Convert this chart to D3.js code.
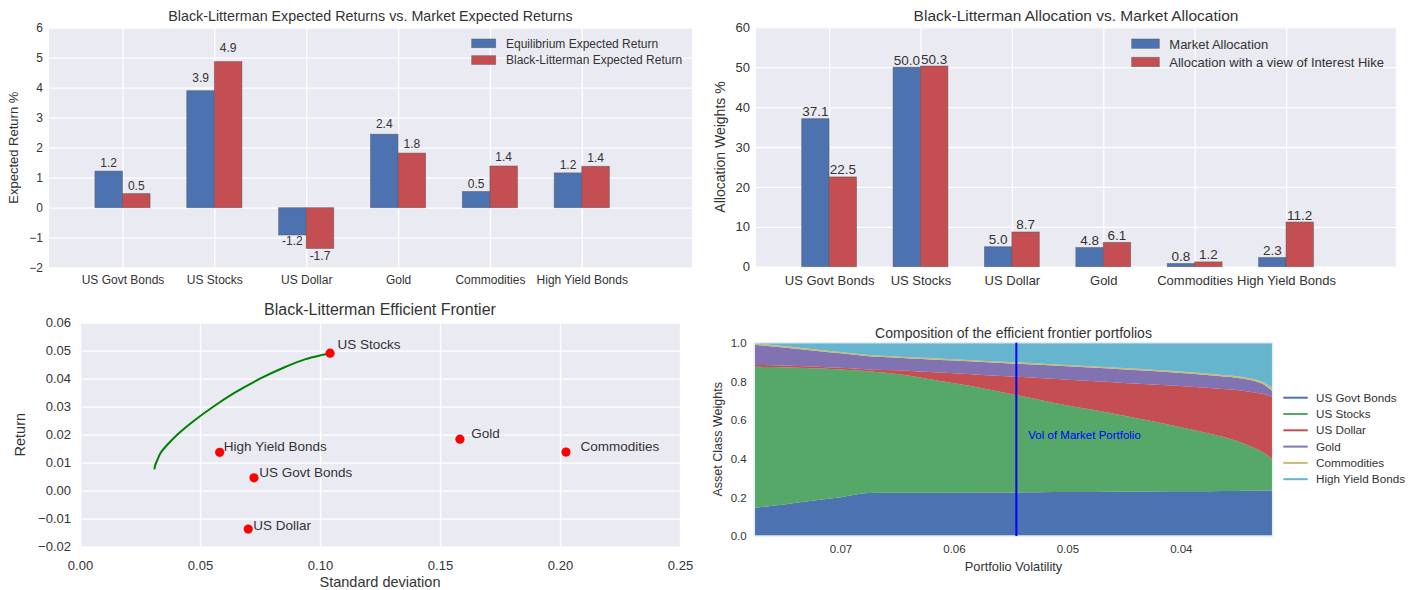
<!DOCTYPE html>
<html lang="en">
<head>
<meta charset="utf-8">
<title>Black-Litterman allocation</title>
<script src="https://d3js.org/d3.v7.min.js"></script>
<style>
  body { margin: 0; background: #fff; }
  svg text { font-family: "Liberation Sans", Arial, sans-serif; fill: #333; }
  .grid line { stroke: #fff; stroke-width: 1.3; }
  .grid .domain { display: none; }
  .bar { stroke: #555; stroke-width: 0.8; stroke-opacity: 0.6; }
</style>
</head>
<body>
<div id="vis"></div>
<script>
// ---- data ----
const assets = ["US Govt Bonds", "US Stocks", "US Dollar", "Gold", "Commodities", "High Yield Bonds"];

// expected returns (%)
const eqReturns = [1.22, 3.90, -0.91, 2.45, 0.54, 1.16];
const blReturns = [0.47, 4.87, -1.36, 1.82, 1.39, 1.38];
const eqReturnLabels = ["1.2", "3.9", "-1.2", "2.4", "0.5", "1.2"];
const blReturnLabels = ["0.5", "4.9", "-1.7", "1.8", "1.4", "1.4"];
const returnTicks = [-2, -1, 0, 1, 2, 3, 4, 5, 6];

// allocation weights (%)
const marketWeights = [37.1, 50.0, 5.0, 4.8, 0.8, 2.3];
const viewWeights = [22.5, 50.3, 8.7, 6.1, 1.2, 11.2];
const weightTicks = [0, 10, 20, 30, 40, 50, 60];

// efficient frontier
const assetStd = [0.0725, 0.1042, 0.0701, 0.1583, 0.2025, 0.0582];
const assetRet = [0.0046, 0.0491, -0.0137, 0.0184, 0.0138, 0.0137];
const frontierStd = [0.0310, 0.0313, 0.0320, 0.0335, 0.0365, 0.0405, 0.0475, 0.0555, 0.0645, 0.0750, 0.0850, 0.0940, 0.1010, 0.1042];
const frontierRet = [0.0076, 0.0090, 0.0105, 0.0134, 0.0165, 0.0200, 0.0250, 0.0300, 0.0350, 0.0400, 0.0440, 0.0470, 0.0485, 0.0491];
const stdTicks = [0, 0.05, 0.10, 0.15, 0.20, 0.25];
const retTicks = [-0.02, -0.01, 0, 0.01, 0.02, 0.03, 0.04, 0.05, 0.06];

// composition of the frontier portfolios
const vols = [0.0776, 0.075, 0.0725, 0.07, 0.0675, 0.065, 0.0625, 0.06, 0.0575, 0.055, 0.0525, 0.05, 0.0475, 0.045, 0.0425, 0.04, 0.0375, 0.035, 0.0335, 0.0327, 0.0319];
const govtW   = [0.145, 0.163, 0.182, 0.200, 0.222, 0.224, 0.224, 0.224, 0.225, 0.225, 0.226, 0.227, 0.228, 0.229, 0.230, 0.231, 0.232, 0.233, 0.234, 0.235, 0.236];
const stocksW = [0.730, 0.710, 0.686, 0.662, 0.630, 0.614, 0.591, 0.566, 0.540, 0.510, 0.479, 0.448, 0.422, 0.393, 0.363, 0.331, 0.298, 0.257, 0.221, 0.197, 0.159];
const dollarW = [0.010, 0.009, 0.009, 0.008, 0.010, 0.020, 0.035, 0.052, 0.068, 0.090, 0.112, 0.133, 0.150, 0.170, 0.191, 0.214, 0.236, 0.265, 0.287, 0.302, 0.323];
const goldW   = [0.105, 0.093, 0.083, 0.075, 0.068, 0.064, 0.065, 0.066, 0.067, 0.068, 0.069, 0.070, 0.070, 0.070, 0.069, 0.067, 0.066, 0.063, 0.060, 0.050, 0.030];
const commW   = [0.007, 0.008, 0.007, 0.007, 0.007, 0.007, 0.007, 0.007, 0.007, 0.007, 0.007, 0.007, 0.007, 0.007, 0.007, 0.008, 0.008, 0.008, 0.009, 0.012, 0.017];
const hybW    = [0.003, 0.017, 0.033, 0.048, 0.063, 0.071, 0.078, 0.085, 0.093, 0.100, 0.107, 0.115, 0.123, 0.131, 0.140, 0.149, 0.160, 0.174, 0.189, 0.204, 0.235];
const volTicks = [0.07, 0.06, 0.05, 0.04];
const weightFracTicks = [0, 0.2, 0.4, 0.6, 0.8, 1.0];
const marketVol = 0.0545;

const blue = "#4C72B0", green = "#55A868", red = "#C44E52",
      purple = "#8172B2", yellow = "#CCB974", cyan = "#64B5CD";
const bg = "#EAEAF2";

const svg = d3.select("#vis").append("svg")
    .attr("width", 1414)
    .attr("height", 590);

// background + grid helper
function panel(x, y, ticksX, ticksY, fmtX, fmtY, fs, padX, padY, gridX) {
    const [x0, x1] = x.range(), [y0, y1] = y.range();
    const g = svg.append("g");
    g.append("rect")
        .attr("x", Math.min(x0, x1)).attr("y", y1)
        .attr("width", Math.abs(x1 - x0)).attr("height", y0 - y1)
        .attr("fill", bg);
    g.append("g")
        .attr("class", "grid")
        .attr("transform", "translate(" + Math.min(x0, x1) + ",0)")
        .call(d3.axisLeft(y).tickValues(ticksY).tickFormat(fmtY)
              .tickSize(-Math.abs(x1 - x0)).tickPadding(padY))
        .selectAll("text").style("font-size", fs + "px");
    g.append("g")
        .attr("class", "grid")
        .attr("transform", "translate(0," + y0 + ")")
        .call(d3.axisBottom(x).tickValues(ticksX).tickFormat(fmtX)
              .tickSize(gridX ? -(y0 - y1) : 0).tickPadding(padX))
        .selectAll("text").style("font-size", fs + "px");
    return g;
}

function title(txt, x, y, fs) {
    svg.append("text").attr("x", x).attr("y", y)
        .attr("text-anchor", "middle").style("font-size", fs + "px").text(txt);
}
function yLabel(txt, x, cy, fs) {
    svg.append("text").attr("transform", "rotate(-90)")
        .attr("x", -cy).attr("y", x)
        .attr("text-anchor", "middle").style("font-size", fs + "px").text(txt);
}

// ================= Panel 1: expected returns =================
const x1 = d3.scaleLinear().domain([-0.8, 6.2]).range([49, 692]);
const y1 = d3.scaleLinear().domain([-2, 6]).range([267.7, 27.7]);
panel(x1, y1, d3.range(assets.length), returnTicks, i => assets[i], d3.format("d"), 12, 8, 6, true);

const p1 = svg.append("g");
p1.selectAll(".eq").data(eqReturns).enter().append("rect")
    .attr("class", "bar")
    .attr("fill", blue)
    .attr("x", (d, i) => x1(i - 0.3))
    .attr("width", x1(0.3) - x1(0))
    .attr("y", d => y1(Math.max(0, d)))
    .attr("height", d => Math.abs(y1(d) - y1(0)));
p1.selectAll(".bl").data(blReturns).enter().append("rect")
    .attr("class", "bar")
    .attr("fill", red)
    .attr("x", (d, i) => x1(i))
    .attr("width", x1(0.3) - x1(0))
    .attr("y", d => y1(Math.max(0, d)))
    .attr("height", d => Math.abs(y1(d) - y1(0)));

function retLabel(vals, labels, off) {
    p1.selectAll(null).data(vals).enter().append("text")
        .attr("x", (d, i) => x1(i + off))
        .attr("y", d => d >= 0 ? y1(1.05 * d) - 2.5 : y1(1.05 * d) + 9)
        .attr("text-anchor", "middle")
        .style("font-size", "12px")
        .text((d, i) => labels[i]);
}
retLabel(eqReturns, eqReturnLabels, -0.15);
retLabel(blReturns, blReturnLabels, 0.15);

title("Black-Litterman Expected Returns vs. Market Expected Returns", 370.5, 20.8, 14.3);
yLabel("Expected Return %", 17.8, 147.7, 13);

// legend
[["Equilibrium Expected Return", blue], ["Black-Litterman Expected Return", red]].forEach((d, i) => {
    svg.append("rect").attr("class", "bar").attr("fill", d[1])
        .attr("x", 471.7).attr("y", 39 + i * 16.7).attr("width", 24).attr("height", 8.7);
    svg.append("text").attr("x", 506).attr("y", 47.6 + i * 16.7)
        .style("font-size", "12px").text(d[0]);
});

// ================= Panel 2: allocations =================
const x2 = d3.scaleLinear().domain([-0.8, 6.2]).range([756, 1395.7]);
const y2 = d3.scaleLinear().domain([0, 60]).range([266.7, 27.3]);
panel(x2, y2, d3.range(assets.length), weightTicks, i => assets[i], d3.format("d"), 13, 9.5, 6, true);

const p2 = svg.append("g");
[[marketWeights, blue, -0.3], [viewWeights, red, 0]].forEach(s => {
    p2.selectAll(null).data(s[0]).enter().append("rect")
        .attr("class", "bar")
        .attr("fill", s[1])
        .attr("x", (d, i) => x2(i + s[2]))
        .attr("width", x2(0.3) - x2(0))
        .attr("y", d => y2(d))
        .attr("height", d => y2(0) - y2(d));
    p2.selectAll(null).data(s[0]).enter().append("text")
        .attr("x", (d, i) => x2(i + s[2] + 0.15))
        .attr("y", d => y2(d) - 2.5)
        .attr("text-anchor", "middle")
        .style("font-size", "13.5px")
        .text(d => d.toFixed(1));
});

title("Black-Litterman Allocation vs. Market Allocation", 1076, 20.5, 15.5);
yLabel("Allocation Weights %", 725, 147, 14);

[["Market Allocation", blue], ["Allocation with a view of Interest Hike", red]].forEach((d, i) => {
    svg.append("rect").attr("class", "bar").attr("fill", d[1])
        .attr("x", 1131.7).attr("y", 39 + i * 18.3).attr("width", 27.6).attr("height", 9.3);
    svg.append("text").attr("x", 1169.3).attr("y", 48.5 + i * 18.3)
        .style("font-size", "13px").text(d[0]);
});

// ================= Panel 3: efficient frontier =================
const x3 = d3.scaleLinear().domain([0, 0.25]).range([80, 680]);
const y3 = d3.scaleLinear().domain([-0.02, 0.06]).range([546.7, 322.7]);
panel(x3, y3, stdTicks, retTicks, d3.format(".2f"), d3.format(".2f"), 13, 14, 9, true);

const frontier = frontierStd.map((s, i) => [s, frontierRet[i]]);
svg.append("path")
    .datum(frontier)
    .attr("fill", "none")
    .attr("stroke", "#008000")
    .attr("stroke-width", 2)
    .attr("d", d3.line().x(d => x3(d[0])).y(d => y3(d[1])).curve(d3.curveCatmullRom));

svg.selectAll(".pt").data(assets).enter().append("circle")
    .attr("cx", (d, i) => x3(assetStd[i]))
    .attr("cy", (d, i) => y3(assetRet[i]))
    .attr("r", 4.6)
    .attr("fill", "#FF0000");
svg.selectAll(".ann").data(assets).enter().append("text")
    .attr("x", (d, i) => x3(assetStd[i] * 1.03))
    .attr("y", (d, i) => y3(assetRet[i] * 1.03))
    .style("font-size", "13.5px")
    .text(d => d);

title("Black-Litterman Efficient Frontier", 380, 315, 16);
yLabel("Return", 25, 434.7, 14.5);
svg.append("text").attr("x", 380).attr("y", 586.7)
    .attr("text-anchor", "middle").style("font-size", "14.5px").text("Standard deviation");

// ================= Panel 4: composition =================
const x4 = d3.scaleLinear().domain([d3.max(vols), d3.min(vols)]).range([754.3, 1272.7]);
const y4 = d3.scaleLinear().domain([0, 1]).range([536, 342.7]);
panel(x4, y4, volTicks, weightFracTicks, d3.format(".2f"), d3.format(".1f"), 11.5, 9, 7.6, false);

const keys = assets;
const series = [govtW, stocksW, dollarW, goldW, commW, hybW];
const colors = [blue, green, red, purple, yellow, cyan];
const rows = vols.map((v, i) => {
    const r = { vol: v };
    keys.forEach((k, j) => r[k] = series[j][i]);
    return r;
});
const stacked = d3.stack().keys(keys)(rows);
svg.append("g").selectAll("path").data(stacked).enter().append("path")
    .attr("fill", (d, i) => colors[i])
    .attr("d", d3.area()
        .x(d => x4(d.data.vol))
        .y0(d => y4(d[0]))
        .y1(d => y4(d[1]))
        .curve(d3.curveMonotoneX));

// plot frame
svg.append("rect")
    .attr("x", 754.3).attr("y", 342.7)
    .attr("width", 1272.7 - 754.3).attr("height", 536 - 342.7)
    .attr("fill", "none").attr("stroke", "#e4ecf6").attr("stroke-width", 1.5);

// market vol line
svg.append("line")
    .attr("x1", x4(marketVol)).attr("x2", x4(marketVol))
    .attr("y1", y4(0)).attr("y2", y4(1))
    .attr("stroke", "#0000FF").attr("stroke-width", 2);
svg.append("text")
    .attr("x", x4(marketVol) + 12).attr("y", y4(0.5))
    .style("font-size", "11.5px").style("fill", "#0000FF")
    .text("Vol of Market Portfolio");

title("Composition of the efficient frontier portfolios", 1013.5, 337.5, 14);
yLabel("Asset Class Weights", 721.7, 439.3, 12.5);
svg.append("text").attr("x", 1013.5).attr("y", 571)
    .attr("text-anchor", "middle").style("font-size", "12.8px").text("Portfolio Volatility");

// legend
keys.forEach((k, i) => {
    svg.append("line")
        .attr("x1", 1283.3).attr("x2", 1307.7)
        .attr("y1", 397.7 + i * 16.3).attr("y2", 397.7 + i * 16.3)
        .attr("stroke", colors[i]).attr("stroke-width", 2);
    svg.append("text").attr("x", 1316).attr("y", 401.8 + i * 16.3)
        .style("font-size", "11.7px").text(k);
});
</script>
</body>
</html>
